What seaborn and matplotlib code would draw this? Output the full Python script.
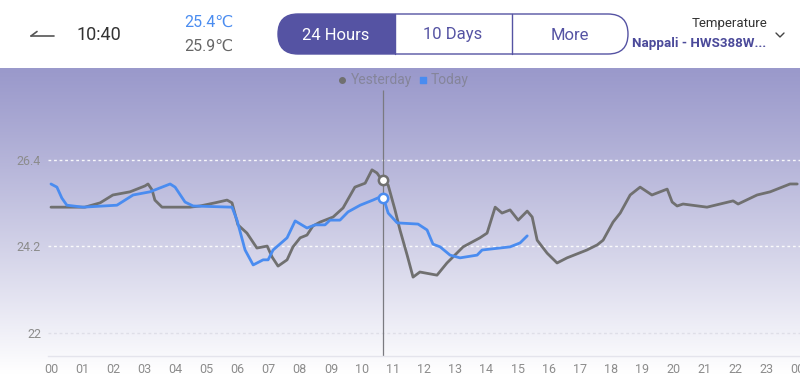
import numpy as np
import pandas as pd
import seaborn as sns
from matplotlib import pyplot as plt
from matplotlib.patches import FancyBboxPatch, Rectangle
from matplotlib.lines import Line2D

# ---- data ----
yesterday_hours = [0, 1.09, 1.58, 1.99, 2.54, 2.86, 3.02, 3.12, 3.25, 3.34,
                   3.57, 4.47, 4.79, 5.27, 5.66, 5.82, 6.01, 6.30, 6.62, 6.95,
                   7.11, 7.30, 7.59, 7.78, 8.01, 8.23, 8.42, 8.65, 9.07, 9.39,
                   9.77, 10.10, 10.32, 10.48, 10.64, 10.84, 11.06, 11.22, 11.45, 11.64,
                   11.86, 12.41, 12.73, 13.25, 13.79, 14.02, 14.28, 14.50, 14.76, 15.02,
                   15.31, 15.47, 15.63, 15.95, 16.27, 16.59, 17.23, 17.56, 17.75, 18.07,
                   18.30, 18.62, 18.94, 19.32, 19.81, 19.97, 20.13, 20.32, 21.09, 21.93,
                   22.09, 22.70, 23.12, 23.76, 23.99]
yesterday_temp = [25.20, 25.20, 25.31, 25.51, 25.59, 25.69, 25.74, 25.79, 25.64, 25.38,
                  25.20, 25.20, 25.23, 25.31, 25.38, 25.31, 24.75, 24.54, 24.16, 24.21,
                  23.93, 23.70, 23.86, 24.19, 24.42, 24.49, 24.72, 24.82, 24.95, 25.18,
                  25.71, 25.81, 26.15, 26.07, 25.89, 25.76, 25.13, 24.62, 23.98, 23.42,
                  23.55, 23.47, 23.78, 24.19, 24.42, 24.54, 25.20, 25.05, 25.13, 24.87,
                  25.10, 24.95, 24.36, 24.03, 23.78, 23.91, 24.11, 24.24, 24.36, 24.82,
                  25.05, 25.51, 25.71, 25.51, 25.66, 25.33, 25.23, 25.28, 25.20, 25.36,
                  25.28, 25.51, 25.59, 25.79, 25.79]

today_hours = [0, 0.19, 0.35, 0.51, 1.03, 2.12, 2.28, 2.64, 3.18, 3.83,
               3.99, 4.31, 4.57, 5.82, 5.98, 6.24, 6.50, 6.82, 6.98, 7.14,
               7.59, 7.85, 8.23, 8.49, 8.81, 8.97, 9.29, 9.55, 9.94, 10.35,
               10.58, 10.68, 10.84, 11.13, 11.80, 12.09, 12.28, 12.51, 12.83, 13.15,
               13.70, 13.86, 14.76, 15.08, 15.31]
today_temp = [25.79, 25.71, 25.43, 25.25, 25.20, 25.25, 25.33, 25.51, 25.59, 25.79,
              25.71, 25.33, 25.23, 25.20, 24.87, 24.11, 23.73, 23.86, 23.86, 24.11,
              24.42, 24.85, 24.67, 24.75, 24.75, 24.87, 24.87, 25.08, 25.25, 25.38,
              25.46, 25.46, 25.05, 24.80, 24.77, 24.62, 24.26, 24.19, 23.98, 23.91,
              23.98, 24.11, 24.19, 24.29, 24.47]

y_ticks = [22, 24.2, 26.4]
y_labels = ['22', '24.2', '26.4']
x_ticks = list(range(25))
x_labels = ['%02d' % (h % 24) for h in x_ticks]

cursor_hour = 10.66
cursor_yesterday = 25.89
cursor_today = 25.43

C_GRAY = '#707070'
C_BLUE = '#4a8cf0'
C_PURPLE = '#5553a3'

sns.set_style('white')
plt.rcParams['font.family'] = ['Roboto', 'DejaVu Sans']

fig = plt.figure(figsize=(8, 3.88), dpi=100)
fig.patch.set_facecolor('white')

# gradient background of the chart area
bg = fig.add_axes([0, 0, 1, 320 / 388])
t = np.linspace(0, 1, 256) ** 1.1
top = np.array([154, 153, 203]) / 255
grad = top[None, :] + (1 - top[None, :]) * np.clip(t / 0.95, 0, 1)[:, None]
bg.imshow(grad[:, None, :], aspect='auto', extent=[0, 1, 0, 1])
bg.axis('off')

# main chart axes
ax = fig.add_axes([48 / 800, 32 / 388, 752 / 800, 288 / 388])
ax.set_facecolor('none')
df = pd.concat([
    pd.DataFrame({'hour': yesterday_hours, 'temp': yesterday_temp, 'day': 'Yesterday'}),
    pd.DataFrame({'hour': today_hours, 'temp': today_temp, 'day': 'Today'}),
])
for yt, col in zip(y_ticks, ['#dcdce6', 'white', 'white']):
    ax.axhline(yt, color=col, lw=1, ls=(0, (2, 2)), alpha=0.9, zorder=1)
sns.lineplot(data=df, x='hour', y='temp', hue='day', estimator=None, sort=True,
             palette={'Yesterday': C_GRAY, 'Today': C_BLUE}, linewidth=2,
             legend=False, ax=ax, zorder=3)
ax.vlines(cursor_hour, 21.413, 28.18, color='#7a7a80', lw=0.9, zorder=2)
ax.scatter([cursor_hour], [cursor_yesterday], s=45, facecolor='white',
           edgecolor=C_GRAY, linewidth=1.8, zorder=5)
ax.scatter([cursor_hour], [cursor_today], s=45, facecolor='white',
           edgecolor=C_BLUE, linewidth=1.8, zorder=5)
ax.set_xlim(-0.096, 24.08)
ax.set_ylim(21.413, 28.741)
ax.set_xticks(x_ticks, x_labels)
ax.set_yticks(y_ticks, y_labels)
ax.tick_params(length=0, labelsize=9, labelcolor='#8c8c8c')
ax.tick_params(axis='x', pad=5)
ax.tick_params(axis='y', pad=5)
ax.set_xlabel('')
ax.set_ylabel('')
for s in ['top', 'right', 'left']:
    ax.spines[s].set_visible(False)
ax.spines['bottom'].set_color('#e4e4ec')
ax.spines['bottom'].set_linewidth(1)
for lab in ax.get_xticklabels():
    lab.set_clip_on(False)

# overlay in pixel coordinates for the header and legend
ov = fig.add_axes([0, 0, 1, 1])
ov.set_xlim(0, 800)
ov.set_ylim(388, 0)
ov.axis('off')
ov.patch.set_alpha(0)

# legend
ov.scatter([342], [80], s=16, color=C_GRAY, marker='o')
ov.text(351, 80, 'Yesterday', fontsize=10, color='#85859a', va='center')
ov.scatter([423], [80], s=14, color=C_BLUE, marker='s')
ov.text(431, 80, 'Today', fontsize=10, color='#85859a', va='center')

# back arrow
ov.add_line(Line2D([31, 54], [36, 36], color='#555555', lw=1.2))
ov.add_line(Line2D([31, 37], [36, 31.5], color='#555555', lw=1.2))
ov.text(76, 35, '10:40', fontsize=13, color='#333333', va='center')
ov.text(184, 22, '25.4℃', fontsize=11.5, color=C_BLUE, va='center')
ov.text(184, 46, '25.9℃', fontsize=11.5, color='#666666', va='center')

# segmented buttons
ov.add_patch(FancyBboxPatch((278, 14), 350, 40, boxstyle='round,pad=0,rounding_size=20',
                            facecolor='white', edgecolor='none'))
ov.add_patch(FancyBboxPatch((278, 14), 140, 40, boxstyle='round,pad=0,rounding_size=20',
                            facecolor=C_PURPLE, edgecolor='none'))
ov.add_patch(Rectangle((395, 14), 210, 40, facecolor='white', edgecolor='none'))
ov.add_patch(FancyBboxPatch((278, 14), 350, 40, boxstyle='round,pad=0,rounding_size=20',
                            facecolor='none', edgecolor=C_PURPLE, lw=1))
ov.add_line(Line2D([395, 395], [14, 54], color=C_PURPLE, lw=1))
ov.add_line(Line2D([512, 512], [14, 54], color=C_PURPLE, lw=1))
ov.text(336, 35, '24 Hours', fontsize=12, color='white', ha='center', va='center')
ov.text(453, 35, '10 Days', fontsize=12, color=C_PURPLE, ha='center', va='center')
ov.text(570, 35, 'More', fontsize=12, color=C_PURPLE, ha='center', va='center')

# sensor selector
ov.text(767, 23, 'Temperature', fontsize=9.5, color='#333333', ha='right', va='center')
ov.text(766, 44, 'Nappali - HWS388W...', fontsize=9.6, color='#4b4a9a',
        fontweight='bold', ha='right', va='center')
ov.add_line(Line2D([776, 780, 784], [33, 37, 33], color='#444444', lw=1))

fig.savefig('out.png', dpi=100)
